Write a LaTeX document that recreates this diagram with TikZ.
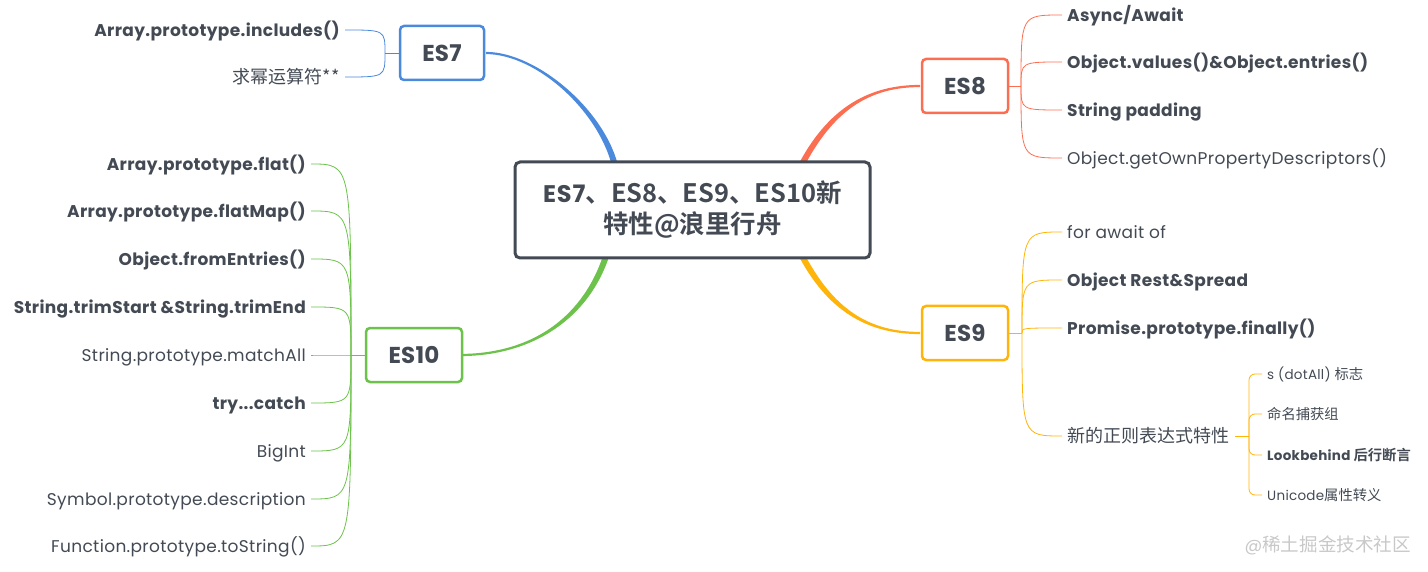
\documentclass[tikz,border=0pt]{standalone}
\usepackage{fontspec}
\usetikzlibrary{calc}
\setmainfont{Poppins}[LetterSpace=2]
\newfontfamily\titlefont{Poppins}[LetterSpace=4]
\newfontfamily\medfont{Poppins}[LetterSpace=1]
\newfontfamily\cjk{Noto Sans CJK SC}[Scale=1.06, BoldFont={Noto Sans CJK SC Bold}]
\definecolor{txt}{HTML}{434A54}
\definecolor{cblue}{HTML}{4A89DC}
\definecolor{cred}{HTML}{FC6E51}
\definecolor{cyel}{HTML}{FFB40A}
\definecolor{cgreen}{HTML}{6CC24A}
\definecolor{wm}{HTML}{C8C8C8}
% tapered branch: start, control 1, control 2, end, colour
\newcommand{\taperbranch}[5]{%
  \coordinate (sa) at ($(#1)!3pt!90:(#2)$);
  \coordinate (sb) at ($(#1)!3pt!-90:(#2)$);
  \coordinate (ea) at ($(#4)!1.1pt!-90:(#3)$);
  \coordinate (eb) at ($(#4)!1.1pt!90:(#3)$);
  \coordinate (ca1) at ($(#2)+(sa)-(#1)$);
  \coordinate (cb1) at ($(#2)+(sb)-(#1)$);
  \coordinate (ca2) at ($(#3)+(ea)-(#4)$);
  \coordinate (cb2) at ($(#3)+(eb)-(#4)$);
  \fill[#5] (sa) .. controls (ca1) and (ca2) .. (ea) -- (eb) .. controls (cb2) and (cb1) .. (sb) -- cycle;
}
\begin{document}
\begin{tikzpicture}[x=1pt,y=-1pt,
  every node/.style={text=txt},
  branch/.style={draw=#1, line width=2.5pt, rounded corners=4pt, fill=white,
     font=\fontsize{23}{28}\medfont\bfseries, inner xsep=12pt, minimum height=54pt},
  leaf/.style={font=\fontsize{17}{20}\selectfont, inner xsep=5pt, inner ysep=0pt, text height=13pt, text depth=0pt},
  bleaf/.style={leaf, font=\fontsize{17}{20}\selectfont\bfseries},
  sleaf/.style={font=\fontsize{13.5}{16}\selectfont, inner xsep=5pt, inner ysep=0pt, text height=10pt, text depth=0pt},
  sbleaf/.style={sleaf, font=\fontsize{13.5}{16}\selectfont\bfseries},
  thin/.style={draw=#1, line width=0.8pt},
  rootbox/.style={draw=txt, line width=3pt, rounded corners=5pt, minimum width=355pt, minimum height=96pt, fill=white,
     font=\fontsize{24}{31}\titlefont\bfseries, align=center},
]
\useasboundingbox (0,0) rectangle (1428,572);

\coordinate (r7) at (616,170);
\coordinate (r8) at (799,170);
\coordinate (r9) at (799,250);
\coordinate (r10) at (608,250);
\coordinate (p7) at (486,53);
\coordinate (p8) at (920,86);
\coordinate (p9) at (920,333);
\coordinate (p10) at (460,355);

% main tapered connectors (behind boxes)
\taperbranch{r7}{604,112}{537,53}{p7}{cblue}
\taperbranch{r8}{830,108}{870,86}{p8}{cred}
\taperbranch{r9}{830,312}{870,333}{p9}{cyel}
\taperbranch{r10}{588,318}{532,355}{p10}{cgreen}

% boxes
\node[rootbox] (root) at (692.5,210)
  {ES7\cjk{、}ES8\cjk{、}ES9\cjk{、}ES10\cjk{新}\\\cjk{特性}@\cjk{浪里行舟}};
\node[branch=cblue, minimum width=84pt] (es7) at (442,53) {ES7};
\node[branch=cred, minimum width=86pt] (es8) at (965,86) {ES8};
\node[branch=cyel, minimum width=86pt] (es9) at (965,333) {ES9};
\node[branch=cgreen, minimum width=96pt] (es10) at (414,355) {ES10};

% ES7 children
\node[bleaf, anchor=east] (a1) at (345,30) {Array.prototype.includes()};
\node[leaf, anchor=east] (a2) at (345,77) {\cjk{求幂运算符}**};
\coordinate (j7) at (385,53);
\draw[thin=cblue] (es7.west) -- (j7);
\foreach \n in {a1,a2} \draw[thin=cblue] (j7) .. controls (j7 |- \n.east) .. (\n.east);

% ES8 children
\node[bleaf, anchor=west] (b1) at (1062,15) {Async/Await};
\node[bleaf, anchor=west] (b2) at (1062,62) {Object.values()\&Object.entries()};
\node[bleaf, anchor=west] (b3) at (1062,110) {String padding};
\node[leaf, anchor=west] (b4) at (1062,158) {Object.getOwnPropertyDescriptors()};
\coordinate (j8) at (1021,86);
\draw[thin=cred] (es8.east) -- (j8);
\foreach \n in {b1,b2,b3,b4} \draw[thin=cred] (j8) .. controls (j8 |- \n.west) .. (\n.west);

% ES9 children
\node[leaf, anchor=west] (c1) at (1062,232) {for await of};
\node[bleaf, anchor=west] (c2) at (1062,280) {Object Rest\&Spread};
\node[bleaf, anchor=west] (c3) at (1062,328) {Promise.prototype.finally()};
\node[leaf, anchor=west] (c4) at (1062,436) {\cjk{新的正则表达式特性}};
\coordinate (j9) at (1022,333);
\draw[thin=cyel] (es9.east) -- (j9);
\foreach \n in {c1,c2,c3,c4} \draw[thin=cyel] (j9) .. controls (j9 |- \n.west) .. (\n.west);

% regex children
\node[sleaf, anchor=west] (d1) at (1262,374) {s (dotAll) \cjk{标志}};
\node[sleaf, anchor=west] (d2) at (1262,414) {\cjk{命名捕获组}};
\node[sbleaf, anchor=west] (d3) at (1262,455) {Lookbehind \cjk{后行断言}};
\node[sleaf, anchor=west] (d4) at (1262,495) {Unicode\cjk{属性转义}};
\coordinate (jr) at (1249,436);
\draw[thin=cyel] (c4.east) -- (jr);
\foreach \n in {d1,d2,d3,d4} \draw[thin=cyel, rounded corners=6pt] (jr) -- (jr |- \n.west) -- (\n.west);

% ES10 children
\node[bleaf, anchor=east] (e1) at (311,164) {Array.prototype.flat()};
\node[bleaf, anchor=east] (e2) at (311,211) {Array.prototype.flatMap()};
\node[bleaf, anchor=east] (e3) at (311,259) {Object.fromEntries()};
\node[bleaf, anchor=east] (e4) at (311,307) {String.trimStart \&String.trimEnd};
\node[leaf, anchor=east] (e5) at (311,355) {String.prototype.matchAll};
\node[bleaf, anchor=east] (e6) at (311,403) {try...catch};
\node[leaf, anchor=east] (e7) at (311,451) {BigInt};
\node[leaf, anchor=east] (e8) at (311,499) {Symbol.prototype.description};
\node[leaf, anchor=east] (e9) at (311,546) {Function.prototype.toString()};
\coordinate (j10) at (351,355);
\draw[thin=cgreen] (es10.west) -- (j10);
\foreach \n in {e1,e2,e3,e4,e5,e6,e7,e8,e9} \draw[thin=cgreen] (j10) .. controls (j10 |- \n.east) .. (\n.east);

% watermark
\node[anchor=east, text=wm, font=\fontsize{17.5}{20}\selectfont, inner sep=0pt] (wmk) at (1411,545) {@\cjk{稀土掘金技术社区}};
\end{tikzpicture}
\end{document}
